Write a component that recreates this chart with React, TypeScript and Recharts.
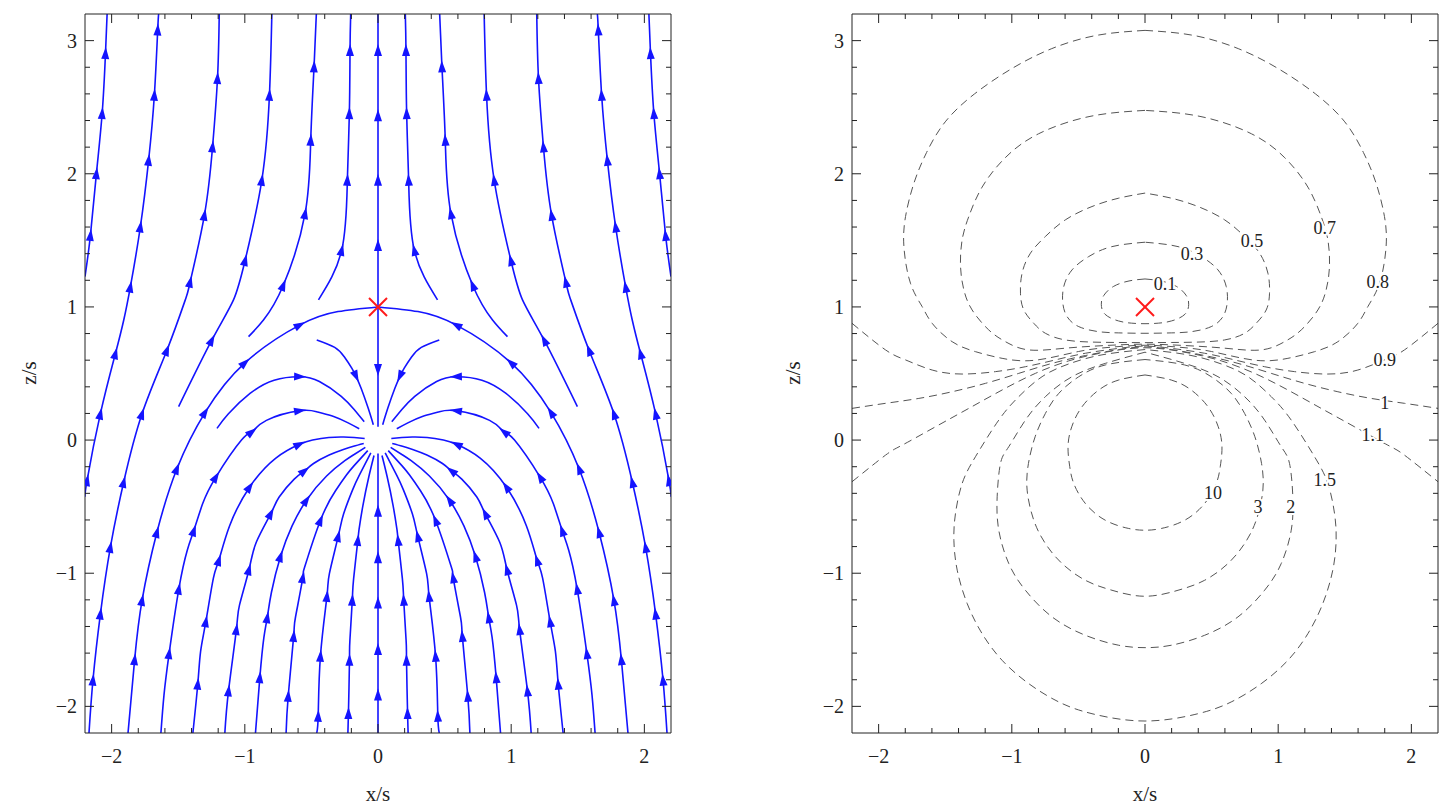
import React from 'react';
import { ComposedChart, Line, Scatter, XAxis, YAxis } from 'recharts';

// point = [x, y, arrow?]  (third value 1 marks an arrow head on a streamline)
type P = [number, number, number?];

// ---------- left panel: streamlines (x/s, z/s) ----------
const edgeHighL: P[] = [[-2.2, 1.228], [-2.159, 1.541, 1], [-2.114, 2.005, 1], [-2.071, 2.456, 1], [-2.046, 2.907, 1], [-2.034, 3.2]];
const edgeHighR: P[] = [[2.2, 1.228], [2.159, 1.541, 1], [2.114, 2.005, 1], [2.071, 2.456, 1], [2.046, 2.907, 1], [2.034, 3.2]];
const edgeLowL: P[] = [[-2.2, -0.426], [-2.184, -0.3, 1], [-2.084, 0.2, 1], [-1.971, 0.652, 1], [-1.909, 0.902], [-1.859, 1.153, 1], [-1.784, 1.604, 1], [-1.722, 2.105, 1], [-1.679, 2.594, 1], [-1.654, 3.083, 1], [-1.647, 3.2]];
const edgeLowR: P[] = [[2.2, -0.426], [2.184, -0.3, 1], [2.084, 0.2, 1], [1.971, 0.652, 1], [1.909, 0.902], [1.859, 1.153, 1], [1.784, 1.604, 1], [1.722, 2.105, 1], [1.679, 2.594, 1], [1.654, 3.083, 1], [1.647, 3.2]];
const outerL: P[] = [[-2.17, -2.2], [-2.14, -1.8, 1], [-2.084, -1.303, 1], [-2.009, -0.802, 1], [-1.909, -0.313, 1], [-1.771, 0.2, 1], [-1.584, 0.677, 1], [-1.447, 1.053], [-1.41, 1.19, 1], [-1.303, 1.692, 1], [-1.242, 2.205, 1], [-1.205, 2.719, 1], [-1.192, 3.2]];
const outerR: P[] = [[2.17, -2.2], [2.14, -1.8, 1], [2.084, -1.303, 1], [2.009, -0.802, 1], [1.909, -0.313, 1], [1.771, 0.2, 1], [1.584, 0.677, 1], [1.447, 1.053], [1.41, 1.19, 1], [1.303, 1.692, 1], [1.242, 2.205, 1], [1.205, 2.719, 1], [1.192, 3.2]];
const upperAL: P[] = [[-1.497, 0.251], [-1.247, 0.752, 1], [-1.085, 1.053], [-0.997, 1.353, 1], [-0.872, 1.955, 1], [-0.815, 2.594, 1], [-0.797, 3.2]];
const upperAR: P[] = [[1.497, 0.251], [1.247, 0.752, 1], [1.085, 1.053], [0.997, 1.353, 1], [0.872, 1.955, 1], [0.815, 2.594, 1], [0.797, 3.2]];
const upperBL: P[] = [[-0.972, 0.777], [-0.86, 0.902], [-0.71, 1.165, 1], [-0.547, 1.705, 1], [-0.505, 2.256, 1], [-0.48, 2.807, 1], [-0.463, 3.2]];
const upperBR: P[] = [[0.972, 0.777], [0.86, 0.902], [0.71, 1.165, 1], [0.547, 1.705, 1], [0.505, 2.256, 1], [0.48, 2.807, 1], [0.463, 3.2]];
const upperCL: P[] = [[-0.447, 1.053], [-0.272, 1.429, 1], [-0.23, 1.955, 1], [-0.215, 2.456, 1], [-0.21, 2.93, 1], [-0.205, 3.2]];
const upperCR: P[] = [[0.447, 1.053], [0.272, 1.429, 1], [0.23, 1.955, 1], [0.215, 2.456, 1], [0.21, 2.93, 1], [0.205, 3.2]];
const dividingL: P[] = [[-1.877, -2.2], [-1.827, -1.645, 1], [-1.771, -1.2, 1], [-1.659, -0.689, 1], [-1.509, -0.213, 1], [-1.297, 0.21, 1], [-0.997, 0.582, 1], [-0.585, 0.865, 1], [-0.3, 0.965], [0, 1]];
const dividingR: P[] = [[1.877, -2.2], [1.827, -1.645, 1], [1.771, -1.2, 1], [1.659, -0.689, 1], [1.509, -0.213, 1], [1.297, 0.21, 1], [0.997, 0.582, 1], [0.585, 0.865, 1], [0.3, 0.965], [0, 1]];
const archL: P[] = [[-1.209, 0.088], [-1.123, 0.198], [-0.961, 0.35], [-0.78, 0.45], [-0.585, 0.476, 1], [-0.44, 0.44], [-0.276, 0.329], [-0.179, 0.229], [-0.104, 0.138]];
const archR: P[] = [[1.209, 0.088], [1.123, 0.198], [0.961, 0.35], [0.78, 0.45], [0.585, 0.476, 1], [0.44, 0.44], [0.276, 0.329], [0.179, 0.229], [0.104, 0.138]];
const hookL: P[] = [[-0.46, 0.752], [-0.325, 0.696], [-0.252, 0.624], [-0.197, 0.54], [-0.164, 0.477, 1], [-0.126, 0.387], [-0.074, 0.24], [-0.035, 0.115]];
const hookR: P[] = [[0.46, 0.752], [0.325, 0.696], [0.252, 0.624], [0.197, 0.54], [0.164, 0.477, 1], [0.126, 0.387], [0.074, 0.24], [0.035, 0.115]];
const sink163L: P[] = [[-1.63, -2.2], [-1.607, -1.915], [-1.568, -1.6, 1], [-1.495, -1.115, 1], [-1.432, -0.827], [-1.382, -0.677, 1], [-1.317, -0.479], [-1.216, -0.276, 1], [-1.025, 0], [-0.945, 0.063, 1], [-0.838, 0.148], [-0.585, 0.221, 1], [-0.453, 0.211], [-0.333, 0.177], [-0.224, 0.129], [-0.141, 0.085]];
const sink163R: P[] = [[1.63, -2.2], [1.607, -1.915], [1.568, -1.6, 1], [1.495, -1.115, 1], [1.432, -0.827], [1.382, -0.677, 1], [1.317, -0.479], [1.216, -0.276, 1], [1.025, 0], [0.945, 0.063, 1], [0.838, 0.148], [0.585, 0.221, 1], [0.453, 0.211], [0.333, 0.177], [0.224, 0.129], [0.141, 0.085]];
const sink139L: P[] = [[-1.39, -2.2], [-1.353, -1.83, 1], [-1.332, -1.587], [-1.292, -1.36, 1], [-1.236, -1.037], [-1.194, -0.9, 1], [-1.114, -0.643], [-0.962, -0.35, 1], [-0.767, -0.135], [-0.588, -0.031, 1], [-0.491, 0], [-0.369, 0.019], [-0.258, 0.023], [-0.179, 0.019], [-0.1, 0.012]];
const sink139R: P[] = [[1.39, -2.2], [1.353, -1.83, 1], [1.332, -1.587], [1.292, -1.36, 1], [1.236, -1.037], [1.194, -0.9, 1], [1.114, -0.643], [0.962, -0.35, 1], [0.767, -0.135], [0.588, -0.031, 1], [0.491, 0], [0.369, 0.019], [0.258, 0.023], [0.179, 0.019], [0.1, 0.012]];
const sink115L: P[] = [[-1.15, -2.2], [-1.122, -1.88, 1], [-1.063, -1.42, 1], [-1.04, -1.24], [-0.968, -0.97, 1], [-0.914, -0.767], [-0.804, -0.55, 1], [-0.742, -0.428], [-0.629, -0.293], [-0.55, -0.23, 1], [-0.484, -0.176], [-0.367, -0.112], [-0.26, -0.07], [-0.184, -0.046], [-0.107, -0.025]];
const sink115R: P[] = [[1.15, -2.2], [1.122, -1.88, 1], [1.063, -1.42, 1], [1.04, -1.24], [0.968, -0.97, 1], [0.914, -0.767], [0.804, -0.55, 1], [0.742, -0.428], [0.629, -0.293], [0.55, -0.23, 1], [0.484, -0.176], [0.367, -0.112], [0.26, -0.07], [0.184, -0.046], [0.107, -0.025]];
const sink092L: P[] = [[-0.92, -2.2], [-0.887, -1.78, 1], [-0.857, -1.484], [-0.831, -1.33, 1], [-0.8, -1.143], [-0.731, -0.871, 1], [-0.645, -0.645], [-0.536, -0.45, 1], [-0.386, -0.27], [-0.249, -0.155], [-0.179, -0.108], [-0.095, -0.055]];
const sink092R: P[] = [[0.92, -2.2], [0.887, -1.78, 1], [0.857, -1.484], [0.831, -1.33, 1], [0.8, -1.143], [0.731, -0.871, 1], [0.645, -0.645], [0.536, -0.45, 1], [0.386, -0.27], [0.249, -0.155], [0.179, -0.108], [0.095, -0.055]];
const sink069L: P[] = [[-0.69, -2.2], [-0.674, -1.92, 1], [-0.633, -1.47, 1], [-0.619, -1.327], [-0.564, -1.03, 1], [-0.55, -0.952], [-0.431, -0.6, 1], [-0.319, -0.381], [-0.237, -0.263], [-0.181, -0.194], [-0.077, -0.079]];
const sink069R: P[] = [[0.69, -2.2], [0.674, -1.92, 1], [0.633, -1.47, 1], [0.619, -1.327], [0.564, -1.03, 1], [0.55, -0.952], [0.431, -0.6, 1], [0.319, -0.381], [0.237, -0.263], [0.181, -0.194], [0.077, -0.079]];
const sink046L: P[] = [[-0.46, -2.2], [-0.449, -2.07, 1], [-0.432, -1.62, 1], [-0.383, -1.17, 1], [-0.365, -1.003], [-0.298, -0.72, 1], [-0.258, -0.554], [-0.19, -0.372], [-0.141, -0.265], [-0.054, -0.096]];
const sink046R: P[] = [[0.46, -2.2], [0.449, -2.07, 1], [0.432, -1.62, 1], [0.383, -1.17, 1], [0.365, -1.003], [0.298, -0.72, 1], [0.258, -0.554], [0.19, -0.372], [0.141, -0.265], [0.054, -0.096]];
const sink023L: P[] = [[-0.226, -2.2], [-0.222, -2.05, 1], [-0.214, -1.65, 1], [-0.211, -1.503], [-0.193, -1.2, 1], [-0.183, -1.04], [-0.151, -0.75, 1], [-0.142, -0.669], [-0.113, -0.49], [-0.068, -0.272], [-0.03, -0.116]];
const sink023R: P[] = [[0.226, -2.2], [0.222, -2.05, 1], [0.214, -1.65, 1], [0.211, -1.503], [0.193, -1.2, 1], [0.183, -1.04], [0.151, -0.75, 1], [0.142, -0.669], [0.113, -0.49], [0.068, -0.272], [0.03, -0.116]];
const axisUp: P[] = [[0, 1], [0, 1.466, 1], [0, 1.955, 1], [0, 2.44, 1], [0, 2.93, 1], [0, 3.2]];
const axisMid: P[] = [[0, 1], [0, 0.526, 1], [0, 0.1]];
const axisLow: P[] = [[0, -2.2], [0, -1.91, 1], [0, -1.57, 1], [0, -1.22, 1], [0, -0.88, 1], [0, -0.53, 1], [0, -0.1]];

const streamlines: P[][] = [
  edgeHighL, edgeHighR, edgeLowL, edgeLowR, outerL, outerR, upperAL, upperAR, upperBL, upperBR, upperCL, upperCR,
  dividingL, dividingR, archL, archR, hookL, hookR, sink163L, sink163R, sink139L, sink139R, sink115L, sink115R,
  sink092L, sink092R, sink069L, sink069R, sink046L, sink046R, sink023L, sink023R, axisUp, axisMid, axisLow,
];

// ---------- right panel: contour lines ----------
const level01: P[] = [[0, 1.21], [-0.12, 1.195], [-0.238, 1.153], [-0.31, 1.085], [-0.328, 1.02], [-0.3, 0.945], [-0.2, 0.895], [-0.1, 0.878], [0, 0.874], [0.1, 0.878], [0.2, 0.895], [0.3, 0.945], [0.328, 1.02], [0.31, 1.085], [0.238, 1.153], [0.12, 1.195], [0, 1.21]];
const level03: P[] = [[0, 1.486], [-0.248, 1.453], [-0.423, 1.378], [-0.548, 1.278], [-0.61, 1.153], [-0.617, 1.028], [-0.585, 0.927], [-0.497, 0.852], [-0.347, 0.814], [-0.197, 0.805], [0, 0.802], [0.197, 0.805], [0.347, 0.814], [0.497, 0.852], [0.585, 0.927], [0.617, 1.028], [0.61, 1.153], [0.548, 1.278], [0.423, 1.378], [0.248, 1.453], [0, 1.486]];
const level05: P[] = [[0, 1.855], [-0.197, 1.817], [-0.398, 1.754], [-0.598, 1.654], [-0.748, 1.529], [-0.86, 1.404], [-0.923, 1.253], [-0.935, 1.103], [-0.91, 0.977], [-0.835, 0.877], [-0.748, 0.802], [-0.598, 0.752], [-0.398, 0.736], [-0.2, 0.733], [0, 0.732], [0.2, 0.733], [0.398, 0.736], [0.598, 0.752], [0.748, 0.802], [0.835, 0.877], [0.91, 0.977], [0.935, 1.103], [0.923, 1.253], [0.86, 1.404], [0.748, 1.529], [0.598, 1.654], [0.398, 1.754], [0.197, 1.817], [0, 1.855]];
const level07: P[] = [[0, 2.476], [-0.413, 2.431], [-0.8, 2.3], [-1.05, 2.12], [-1.223, 1.9], [-1.323, 1.679], [-1.373, 1.504], [-1.385, 1.303], [-1.36, 1.128], [-1.298, 0.977], [-1.173, 0.827], [-1.048, 0.739], [-0.872, 0.677], [-0.6, 0.69], [-0.3, 0.71], [0, 0.72], [0.3, 0.71], [0.6, 0.69], [0.872, 0.677], [1.048, 0.739], [1.173, 0.827], [1.298, 0.977], [1.36, 1.128], [1.385, 1.303], [1.373, 1.504], [1.323, 1.679], [1.223, 1.9], [1.05, 2.12], [0.8, 2.3], [0.413, 2.431], [0, 2.476]];
const level08: P[] = [[0, 3.077], [-0.36, 3.04], [-0.7, 2.94], [-1.0, 2.79], [-1.28, 2.6], [-1.5, 2.39], [-1.64, 2.16], [-1.735, 1.93], [-1.798, 1.679], [-1.81, 1.45], [-1.761, 1.178], [-1.673, 1.002], [-1.598, 0.877], [-1.448, 0.739], [-1.273, 0.664], [-1.073, 0.614], [-0.823, 0.6], [-0.5, 0.665], [-0.25, 0.698], [0, 0.712], [0.25, 0.698], [0.5, 0.665], [0.823, 0.6], [1.073, 0.614], [1.273, 0.664], [1.448, 0.739], [1.598, 0.877], [1.673, 1.002], [1.761, 1.178], [1.81, 1.45], [1.798, 1.679], [1.735, 1.93], [1.64, 2.16], [1.5, 2.39], [1.28, 2.6], [1.0, 2.79], [0.7, 2.94], [0.36, 3.04], [0, 3.077]];
const level09: P[] = [[-2.2, 0.877], [-1.948, 0.677], [-1.798, 0.602], [-1.598, 0.526], [-1.373, 0.496], [-1.123, 0.514], [-0.898, 0.551], [-0.673, 0.602], [-0.448, 0.652], [-0.197, 0.689], [0, 0.706], [0.197, 0.689], [0.448, 0.652], [0.673, 0.602], [0.898, 0.551], [1.123, 0.514], [1.373, 0.496], [1.598, 0.526], [1.798, 0.602], [1.948, 0.677], [2.2, 0.877]];
const level10: P[] = [[-2.2, 0.238], [-1.948, 0.276], [-1.698, 0.313], [-1.448, 0.363], [-1.198, 0.426], [-0.948, 0.501], [-0.698, 0.576], [-0.448, 0.635], [-0.197, 0.68], [0, 0.7], [0.197, 0.68], [0.448, 0.635], [0.698, 0.576], [0.948, 0.501], [1.198, 0.426], [1.448, 0.363], [1.698, 0.313], [1.948, 0.276], [2.2, 0.238]];
const level11: P[] = [[-2.2, -0.313], [-1.948, -0.113], [-1.823, -0.038], [-1.573, 0.1], [-1.323, 0.238], [-1.073, 0.376], [-0.823, 0.501], [-0.572, 0.595], [-0.323, 0.655], [0, 0.693], [0.323, 0.655], [0.572, 0.595], [0.823, 0.501], [1.073, 0.376], [1.323, 0.238], [1.573, 0.1], [1.823, -0.038], [1.948, -0.113], [2.2, -0.313]];
const level15: P[] = [[0, 0.68], [-0.323, 0.64], [-0.572, 0.572], [-0.773, 0.476], [-0.948, 0.326], [-1.098, 0.15], [-1.273, -0.125], [-1.373, -0.326], [-1.423, -0.551], [-1.435, -0.752], [-1.41, -0.977], [-1.335, -1.228], [-1.223, -1.454], [-1.073, -1.654], [-0.872, -1.83], [-0.647, -1.967], [-0.398, -2.055], [0, -2.11], [0.398, -2.055], [0.647, -1.967], [0.872, -1.83], [1.073, -1.654], [1.223, -1.454], [1.335, -1.228], [1.41, -0.977], [1.435, -0.752], [1.423, -0.551], [1.373, -0.326], [1.273, -0.125], [1.098, 0.15], [0.948, 0.326], [0.773, 0.476], [0.572, 0.572], [0.323, 0.64], [0, 0.68]];
const level2: P[] = [[0, 0.66], [-0.298, 0.576], [-0.548, 0.476], [-0.748, 0.326], [-0.898, 0.15], [-1.023, -0.05], [-1.085, -0.175], [-1.11, -0.426], [-1.098, -0.677], [-1.023, -0.927], [-0.898, -1.128], [-0.698, -1.328], [-0.448, -1.466], [-0.197, -1.541], [0, -1.559], [0.197, -1.541], [0.448, -1.466], [0.698, -1.328], [0.898, -1.128], [1.023, -0.927], [1.098, -0.677], [1.11, -0.426], [1.085, -0.175], [1.023, -0.05], [0.898, 0.15], [0.748, 0.326], [0.548, 0.476], [0.298, 0.576], [0, 0.66]];
const level3: P[] = [[0, 0.605], [-0.298, 0.564], [-0.497, 0.476], [-0.647, 0.351], [-0.748, 0.2], [-0.825, 0.025], [-0.875, -0.175], [-0.885, -0.376], [-0.835, -0.602], [-0.748, -0.777], [-0.623, -0.927], [-0.448, -1.053], [-0.248, -1.128], [0, -1.173], [0.248, -1.128], [0.448, -1.053], [0.623, -0.927], [0.748, -0.777], [0.835, -0.602], [0.885, -0.376], [0.875, -0.175], [0.825, 0.025], [0.748, 0.2], [0.647, 0.351], [0.497, 0.476], [0.298, 0.564], [0, 0.605]];
const level10x: P[] = [[0, 0.489], [-0.197, 0.451], [-0.347, 0.376], [-0.473, 0.25], [-0.55, 0.1], [-0.578, -0.05], [-0.565, -0.2], [-0.535, -0.326], [-0.448, -0.476], [-0.298, -0.602], [-0.122, -0.664], [0, -0.677], [0.122, -0.664], [0.298, -0.602], [0.448, -0.476], [0.535, -0.326], [0.565, -0.2], [0.578, -0.05], [0.55, 0.1], [0.473, 0.25], [0.347, 0.376], [0.197, 0.451], [0, 0.489]];

const contours: P[][] = [level01, level03, level05, level07, level08, level09, level10, level11, level15, level2, level3, level10x];

const contourLabels = [
  { text: '0.1', x: 0.15, y: 1.173 },
  { text: '0.3', x: 0.353, y: 1.398 },
  { text: '0.5', x: 0.803, y: 1.496 },
  { text: '0.7', x: 1.35, y: 1.594 },
  { text: '0.8', x: 1.748, y: 1.188 },
  { text: '0.9', x: 1.8, y: 0.6 },
  { text: '1', x: 1.8, y: 0.278 },
  { text: '1.1', x: 1.71, y: 0.038 },
  { text: '1.5', x: 1.35, y: -0.3 },
  { text: '2', x: 1.095, y: -0.504 },
  { text: '3', x: 0.848, y: -0.504 },
  { text: '10', x: 0.51, y: -0.398 },
];

const stagnation = [{ x: 0, y: 1 }];

const xTicks = [-2, -1.8, -1.6, -1.4, -1.2, -1, -0.8, -0.6, -0.4, -0.2, 0, 0.2, 0.4, 0.6, 0.8, 1, 1.2, 1.4, 1.6, 1.8, 2];
const yTicks = [-2, -1.8, -1.6, -1.4, -1.2, -1, -0.8, -0.6, -0.4, -0.2, 0, 0.2, 0.4, 0.6, 0.8, 1, 1.2, 1.4, 1.6, 1.8, 2, 2.2, 2.4, 2.6, 2.8, 3];

const X_DOMAIN: [number, number] = [-2.2, 2.2];
const Y_DOMAIN: [number, number] = [-2.2, 3.2];
const FONT = '"Times New Roman", "Liberation Serif", Times, serif';
const INK = '#222';
const BLUE = '#1414ff';

const isMajor = (v: number) => Math.abs(v - Math.round(v)) < 1e-9;
const fmt = (v: number) => (v < 0 ? '\u2212' + Math.abs(v) : String(v));

// arrow heads: direction taken from the neighbouring points of the streamline
const arrows = streamlines.flatMap((pts) =>
  pts
    .map((p, i) => {
      if (!p[2]) return null;
      const a = pts[Math.max(i - 1, 0)];
      const b = pts[Math.min(i + 1, pts.length - 1)];
      return { x: p[0], y: p[1], a: (Math.atan2(-(b[1] - a[1]), b[0] - a[0]) * 180) / Math.PI };
    })
    .filter(Boolean)
);

const toRows = (pts: P[]) => pts.map((p) => ({ x: p[0], y: p[1] }));

const labelStyle: React.CSSProperties = { fontFamily: FONT, fontSize: 20 };

function BottomTick({ x, y, payload }: any) {
  const v = payload.value;
  const major = isMajor(v);
  return (
    <g>
      <line x1={x} x2={x} y1={y} y2={y - (major ? 9 : 5)} stroke={INK} />
      {major && (
        <text x={x} y={y + 30} textAnchor="middle" style={labelStyle} fill={INK}>
          {fmt(v)}
        </text>
      )}
    </g>
  );
}

function TopTick({ x, y, payload }: any) {
  const major = isMajor(payload.value);
  return <line x1={x} x2={x} y1={y} y2={y + (major ? 9 : 5)} stroke={INK} />;
}

function LeftTick({ x, y, payload }: any) {
  const v = payload.value;
  const major = isMajor(v);
  return (
    <g>
      <line x1={x} x2={x + (major ? 9 : 5)} y1={y} y2={y} stroke={INK} />
      {major && (
        <text x={x - 8} y={y + 7} textAnchor="end" style={labelStyle} fill={INK}>
          {fmt(v)}
        </text>
      )}
    </g>
  );
}

function RightTick({ x, y, payload }: any) {
  const major = isMajor(payload.value);
  return <line x1={x} x2={x - (major ? 9 : 5)} y1={y} y2={y} stroke={INK} />;
}

function ArrowHead(props: any) {
  const { cx, cy } = props;
  const a = props.payload?.a ?? props.a ?? 0;
  return <polygon points="6,0 -6,-4 -6,4" fill={BLUE} transform={`translate(${cx},${cy}) rotate(${a})`} />;
}

function Cross({ cx, cy }: any) {
  const r = 9;
  return (
    <g stroke="#ff1a1a" strokeWidth={2}>
      <line x1={cx - r} y1={cy - r} x2={cx + r} y2={cy + r} />
      <line x1={cx - r} y1={cy + r} x2={cx + r} y2={cy - r} />
    </g>
  );
}

function ContourLabel(props: any) {
  const { cx, cy } = props;
  const text = props.payload?.text ?? props.text;
  return (
    <text x={cx} y={cy + 6} textAnchor="middle" style={{ fontFamily: FONT, fontSize: 18 }} fill={INK}
      stroke="#fff" strokeWidth={4} paintOrder="stroke" strokeLinejoin="round">
      {text}
    </text>
  );
}

// the four sides of the frame; each axis is 1px thick so that it is drawn
const frameAxes = () => [
  <XAxis key="xb" type="number" dataKey="x" domain={X_DOMAIN} ticks={xTicks} interval={0} allowDataOverflow
    height={1} tickSize={0} tickMargin={0} tickLine={false} axisLine={{ stroke: INK }} tick={<BottomTick />} />,
  <XAxis key="xt" xAxisId="top" orientation="top" type="number" dataKey="x" domain={X_DOMAIN} ticks={xTicks} interval={0}
    allowDataOverflow height={1} tickSize={0} tickMargin={0} tickLine={false} axisLine={{ stroke: INK }} tick={<TopTick />} />,
  <YAxis key="yl" type="number" dataKey="y" domain={Y_DOMAIN} ticks={yTicks} interval={0} allowDataOverflow
    width={1} tickSize={0} tickMargin={0} tickLine={false} axisLine={{ stroke: INK }} tick={<LeftTick />} />,
  <YAxis key="yr" yAxisId="right" orientation="right" type="number" dataKey="y" domain={Y_DOMAIN} ticks={yTicks} interval={0}
    allowDataOverflow width={1} tickSize={0} tickMargin={0} tickLine={false} axisLine={{ stroke: INK }} tick={<RightTick />} />,
];

const titleStyle: React.CSSProperties = {
  position: 'absolute', width: 80, height: 26, lineHeight: '26px', textAlign: 'center',
  fontFamily: FONT, fontSize: 21, color: INK,
};

export default function App() {
  return (
    <div style={{ position: 'absolute', left: 0, top: 0, width: 1443, height: 809, background: '#fff', overflow: 'hidden' }}>
      <div style={{ position: 'absolute', left: 0, top: 0 }}>
        <ComposedChart width={700} height={809} margin={{ top: 13, right: 28, bottom: 75, left: 84 }}>
          {frameAxes()}
          {streamlines.map((pts, i) => (
            <Line key={`s${i}`} data={toRows(pts)} dataKey="y" type="natural" stroke={BLUE} strokeWidth={1.6}
              dot={false} activeDot={false} isAnimationActive={false} />
          ))}
          <Scatter data={arrows as any[]} dataKey="y" shape={(p: any) => <ArrowHead {...p} />} isAnimationActive={false} />
          <Scatter data={stagnation} dataKey="y" shape={(p: any) => <Cross {...p} />} isAnimationActive={false} />
        </ComposedChart>
      </div>
      <div style={{ position: 'absolute', left: 767, top: 0 }}>
        <ComposedChart width={676} height={809} margin={{ top: 13, right: 4, bottom: 75, left: 84 }}>
          {frameAxes()}
          {contours.map((pts, i) => (
            <Line key={`c${i}`} data={toRows(pts)} dataKey="y" type="natural" stroke="#555" strokeWidth={1}
              strokeDasharray="8 5" dot={false} activeDot={false} isAnimationActive={false} />
          ))}
          <Scatter data={contourLabels} dataKey="y" shape={(p: any) => <ContourLabel {...p} />} isAnimationActive={false} />
          <Scatter data={stagnation} dataKey="y" shape={(p: any) => <Cross {...p} />} isAnimationActive={false} />
        </ComposedChart>
      </div>
      <div style={{ ...titleStyle, left: 338, top: 781 }}>x/s</div>
      <div style={{ ...titleStyle, left: 1105, top: 781 }}>x/s</div>
      <div style={{ ...titleStyle, left: -11, top: 360, transform: 'rotate(-90deg)' }}>z/s</div>
      <div style={{ ...titleStyle, left: 753, top: 360, transform: 'rotate(-90deg)' }}>z/s</div>
    </div>
  );
}
